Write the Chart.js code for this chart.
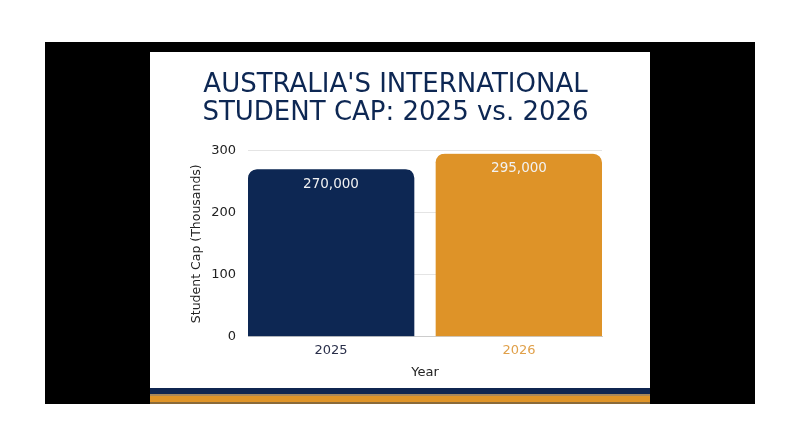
<!DOCTYPE html>
<html>
<head>
<meta charset="utf-8">
<script src="https://cdn.jsdelivr.net/npm/chart.js@4"></script>
<style>
  html, body { margin: 0; padding: 0; background: #fff; }
  body { width: 800px; height: 447px; position: relative; overflow: hidden; }
  #frame { position: absolute; left: 45px; top: 42px; width: 710px; height: 362px; background: #000; }
  #panel { position: absolute; left: 105px; top: 10px; width: 500px; height: 352px; background: #fff; }
  #chartBox { position: absolute; left: 0; top: 0; width: 500px; height: 336px; }
  .stripe { position: absolute; left: 0; width: 500px; }
</style>
</head>
<body>
<div id="frame">
  <div id="panel">
    <div id="chartBox"><canvas id="capChart" width="500" height="336"></canvas></div>
    <div class="stripe" style="top:336px;height:6px;background:#0f2550;"></div>
    <div class="stripe" style="top:342px;height:2px;background:#a8875a;"></div>
    <div class="stripe" style="top:344px;height:6px;background:#df9428;"></div>
    <div class="stripe" style="top:350px;height:2px;background:#8a6a3a;"></div>
  </div>
</div>
<script>
const years = ['2025', '2026'];
const capThousands = [270, 295];
const capLabels = ['270,000', '295,000'];
const yTicks = [0, 100, 200, 300];

const navy = '#0d2753';
const gold = '#de9328';
const yearColors = ['#2a2f4a', '#e0a04a'];
const fontFamily = '"DejaVu Sans", "Open Sans", sans-serif';
const gap = 11; // transparent inner border, pushes bars apart

// value labels inside bar tops and year labels under the visible bar centres
const barText = {
    id: 'barText',
    afterDatasetsDraw(chart) {
        const ctx = chart.ctx;
        const meta = chart.getDatasetMeta(0);
        const base = chart.chartArea.bottom;
        ctx.save();
        ctx.textAlign = 'center';
        ctx.textBaseline = 'middle';
        meta.data.forEach((bar, i) => {
            const cx = bar.x + (i === 0 ? -gap / 2 : gap / 2);
            ctx.fillStyle = '#f2f2f2';
            ctx.font = '13.5px ' + fontFamily;
            ctx.fillText(capLabels[i], cx, bar.y + 15);
            ctx.fillStyle = yearColors[i];
            ctx.font = '13px ' + fontFamily;
            ctx.fillText(years[i], cx, base + 14);
        });
        ctx.restore();
    }
};

const ctx = document.getElementById('capChart').getContext('2d');
const chart = new Chart(ctx, {
    type: 'bar',
    data: {
        labels: years,
        datasets: [{
            data: capThousands,
            backgroundColor: [navy, gold],
            borderColor: 'rgba(0,0,0,0)',
            borderWidth: (c) => c.dataIndex === 0
                ? { top: 0, left: 0, bottom: 0, right: gap }
                : { top: 0, left: gap, bottom: 0, right: 0 },
            borderRadius: (c) => c.dataIndex === 0
                ? { topLeft: 9, topRight: 9 + gap }
                : { topLeft: 9 + gap, topRight: 9 },
            borderSkipped: 'bottom',
            barPercentage: 1,
            categoryPercentage: 1
        }]
    },
    plugins: [barText],
    options: {
        responsive: false,
        animation: false,
        layout: { padding: { left: 39, right: 48, top: 20, bottom: 8 } },
        plugins: {
            legend: { display: false },
            tooltip: { enabled: false },
            title: {
                display: true,
                text: ["AUSTRALIA'S INTERNATIONAL", 'STUDENT CAP: 2025 vs. 2026'],
                color: navy,
                font: { family: fontFamily, size: 26, weight: 'normal', lineHeight: 1.05 },
                padding: { top: 0, bottom: 24 }
            }
        },
        scales: {
            x: {
                grid: { display: false, drawTicks: false },
                border: { color: '#cccccc' },
                ticks: {
                    color: 'rgba(0,0,0,0)',
                    font: { family: fontFamily, size: 13 },
                    padding: 5
                },
                title: {
                    display: true,
                    text: 'Year',
                    color: '#222222',
                    font: { family: fontFamily, size: 13 },
                    padding: { top: 2, bottom: 0 }
                }
            },
            y: {
                min: 0,
                max: 300,
                afterBuildTicks: (axis) => { axis.ticks = yTicks.map(v => ({ value: v })); },
                afterFit: (axis) => { axis.width = 59; },
                grid: { color: '#e4e4e4', drawTicks: false },
                border: { display: false },
                ticks: {
                    color: '#222222',
                    font: { family: fontFamily, size: 13 },
                    padding: 12
                },
                title: {
                    display: true,
                    text: 'Student Cap (Thousands)',
                    color: '#222222',
                    font: { family: fontFamily, size: 12.5 },
                    padding: { top: 0, bottom: 4 }
                }
            }
        }
    }
});
</script>
</body>
</html>
